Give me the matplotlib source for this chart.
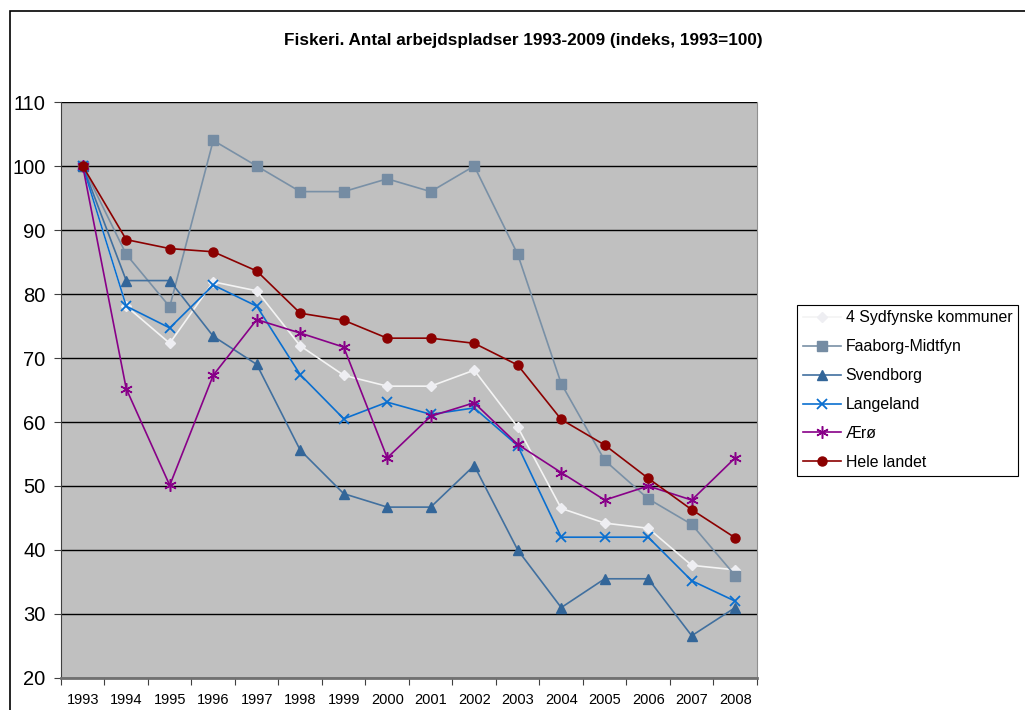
import matplotlib.pyplot as plt
from matplotlib.patches import Rectangle

plt.rcParams['font.family'] = ['Liberation Sans', 'DejaVu Sans']

years = ['1993', '1994', '1995', '1996', '1997', '1998', '1999', '2000',
         '2001', '2002', '2003', '2004', '2005', '2006', '2007', '2008']

sydfyn = [100, 78.1, 72.3, 81.9, 80.5, 71.9, 67.3, 65.6,
          65.6, 68.1, 59.2, 46.5, 44.2, 43.4, 37.6, 36.9]
faaborg = [100, 86.2, 78, 104, 100, 96, 96, 98,
           96, 100, 86.2, 66, 54, 48, 44, 36]
svendborg = [100, 82.1, 82.1, 73.4, 69, 55.6, 48.8, 46.7,
             46.7, 53.2, 40, 31, 35.5, 35.5, 26.6, 31]
langeland = [100, 78.1, 74.7, 81.4, 78.1, 67.4, 60.5, 63.1,
             61.2, 62.2, 56.3, 42, 42, 42, 35.2, 32]
aeroe = [100, 65.2, 50.1, 67.3, 76, 73.9, 71.7, 54.4,
         60.9, 63, 56.5, 52.1, 47.8, 50, 47.8, 54.4]
hele = [100, 88.5, 87.1, 86.6, 83.6, 77, 75.9, 73.1,
        73.1, 72.3, 68.9, 60.4, 56.4, 51.2, 46.3, 41.9]

fig = plt.figure(figsize=(10.25, 7.10), dpi=100)
ax = fig.add_axes([0.0595, 0.0451, 0.679, 0.8112])
ax.set_facecolor('#C0C0C0')

x = range(len(years))

ax.plot(x, sydfyn, color='#F4F4F4', lw=1.2, marker='D', ms=5.5,
        mfc='#EEEEF2', mec='#EEEEF2', label='4 Sydfynske kommuner', zorder=3)
ax.plot(x, faaborg, color='#7990A6', lw=1.2, marker='s', ms=7,
        mfc='#758CA3', mec='#758CA3', label='Faaborg-Midtfyn', zorder=3)
ax.plot(x, svendborg, color='#41709F', lw=1.2, marker='^', ms=7.5,
        mfc='#336699', mec='#336699', label='Svendborg', zorder=3)
ax.plot(x, langeland, color='#0A6FD0', lw=1.2, marker='x', ms=7.5,
        mew=1.3, label='Langeland', zorder=3)
ax.plot(x, aeroe, color='#880088', lw=1.2, marker=(6, 2, 0), ms=9,
        mew=1.1, label='Ærø', zorder=3)
ax.plot(x, hele, color='#8B0000', lw=1.2, marker='o', ms=6.5,
        mfc='#8B0000', mec='#8B0000', label='Hele landet', zorder=3)

ax.set_xlim(-0.5, len(years) - 0.5)
ax.set_ylim(20, 110)
ax.set_yticks(range(20, 111, 10))
ax.yaxis.grid(True, color='black', lw=1)
ax.set_axisbelow(True)
ax.tick_params(axis='y', labelsize=14.5, length=5, color='#404040', pad=6)

ax.set_xticks([i - 0.5 for i in range(len(years) + 1)])
ax.set_xticklabels([])
ax.set_xticks(list(x), minor=True)
ax.set_xticklabels(years, minor=True, fontsize=10.5)
ax.tick_params(axis='x', which='major', length=5, color='#404040')
ax.tick_params(axis='x', which='minor', length=0, pad=11)

ax.spines['top'].set_visible(False)
ax.spines['right'].set_color('#909090')
ax.spines['left'].set_color('#404040')
ax.spines['bottom'].set_color('#707070')
ax.spines['bottom'].set_linewidth(2)

fig.text(0.511, 0.943, 'Fiskeri. Antal arbejdspladser 1993-2009 (indeks, 1993=100)',
         ha='center', va='center', fontsize=12.3, fontweight='bold')

leg = ax.legend(loc='upper left', bbox_to_anchor=(1.058, 0.648), fontsize=11.4,
                frameon=True, fancybox=False, framealpha=1, edgecolor='black',
                borderpad=0.35, labelspacing=0.88, handlelength=2.4,
                handletextpad=0.3, borderaxespad=0)
leg.get_frame().set_linewidth(0.8)

fig.patches.append(Rectangle((10 / 1025, -0.05), 1.1, 1.05 - 11 / 710,
                             transform=fig.transFigure, fill=False,
                             edgecolor='black', lw=1.2))

plt.savefig('out.png', dpi=100)
